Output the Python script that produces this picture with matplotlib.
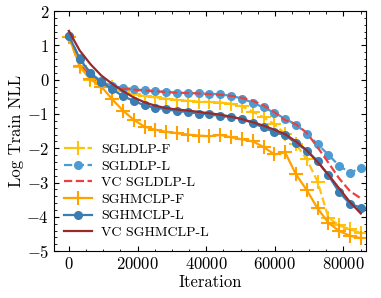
import matplotlib
matplotlib.use('Agg')
import matplotlib.pyplot as plt
import numpy as np
from matplotlib.ticker import MultipleLocator

plt.rcParams['font.family'] = 'serif'
plt.rcParams['font.serif'] = ['cmr10']
plt.rcParams['mathtext.fontset'] = 'cm'
plt.rcParams['axes.formatter.use_mathtext'] = True
plt.rcParams['font.size'] = 12

# iteration grid (one logged value every ~3150 iterations)
iters = np.arange(28) * 3150

sgld_f = [1.25, 0.38, 0.00, -0.12, -0.22, -0.33, -0.42, -0.48, -0.52, -0.55, -0.59, -0.62, -0.64, -0.65,
          -0.67, -0.70, -0.78, -0.93, -1.10, -1.30, -1.58, -1.88, -2.32, -2.97, -4.02, -4.25, -4.36, -4.47]
sgld_l = [1.28, 0.62, 0.19, -0.05, -0.19, -0.23, -0.28, -0.31, -0.33, -0.36, -0.38, -0.38, -0.40, -0.41,
          -0.43, -0.47, -0.55, -0.67, -0.81, -0.96, -1.14, -1.31, -1.57, -1.88, -2.19, -2.51, -2.71, -2.58]
vc_sgld_l = [1.33, 0.45, 0.10, -0.10, -0.20, -0.26, -0.29, -0.32, -0.34, -0.36, -0.38, -0.39, -0.40, -0.42,
             -0.44, -0.47, -0.53, -0.62, -0.75, -0.95, -1.18, -1.30, -1.55, -1.97, -2.42, -2.88, -3.25, -3.46]
sghmc_f = [1.25, 0.40, 0.01, -0.20, -0.57, -0.90, -1.17, -1.37, -1.46, -1.52, -1.56, -1.60, -1.63, -1.65,
           -1.61, -1.68, -1.74, -1.80, -1.96, -2.18, -2.12, -2.76, -3.22, -3.75, -4.17, -4.41, -4.55, -4.62]
sghmc_l = [1.28, 0.61, 0.18, -0.07, -0.28, -0.48, -0.62, -0.75, -0.82, -0.86, -0.92, -0.94, -0.99, -1.01,
           -1.06, -1.09, -1.14, -1.27, -1.39, -1.53, -1.62, -1.84, -2.07, -2.37, -2.79, -3.28, -3.62, -3.73]
vc_sghmc_l = [1.42, 0.85, 0.45, 0.12, -0.12, -0.33, -0.52, -0.66, -0.76, -0.83, -0.87, -0.90, -0.94, -0.98,
              -1.02, -1.08, -1.15, -1.24, -1.34, -1.46, -1.59, -1.80, -2.06, -2.40, -2.77, -3.17, -3.57, -3.90]

fig = plt.figure(figsize=(3.81, 2.98), dpi=100)
ax = fig.add_axes([0.142, 0.157, 0.819, 0.806])

ax.plot(iters, sgld_f, '--', color='#FFC20E', marker='+', ms=10, mew=1.5, lw=1.6, label='SGLDLP-F')
ax.plot(iters, sgld_l, '--', color='#4C9BD2', marker='o', ms=5.5, lw=1.6, label='SGLDLP-L')
ax.plot(iters, vc_sgld_l, '--', color='#E8413F', lw=1.6, label='VC SGLDLP-L')
ax.plot(iters, sghmc_f, '-', color='#FFA200', marker='+', ms=10, mew=1.5, lw=1.6, label='SGHMCLP-F')
ax.plot(iters, sghmc_l, '-', color='#3A7DB3', marker='o', ms=5.5, lw=1.6, label='SGHMCLP-L')
ax.plot(iters, vc_sghmc_l, '-', color='#992A2A', lw=1.6, label='VC SGHMCLP-L')

ax.set_xlim(-4300, 86600)
ax.set_ylim(-5, 2)
ax.xaxis.set_major_locator(MultipleLocator(20000))
ax.xaxis.set_minor_locator(MultipleLocator(5000))
ax.yaxis.set_major_locator(MultipleLocator(1))
ax.yaxis.set_minor_locator(MultipleLocator(0.2))
ax.tick_params(which='both', direction='in', top=True, right=True)
ax.tick_params(which='major', length=3.5)
ax.tick_params(which='minor', length=1.8)

ax.set_xlabel('Iteration', labelpad=2)
ax.set_ylabel('Log Train NLL', labelpad=2)

ax.legend(loc='lower left', frameon=False, fontsize=10, handlelength=2.0, handletextpad=0.7,
          labelspacing=0.28, borderaxespad=0.3, bbox_to_anchor=(0.0, 0.01))

fig.savefig('out.png', dpi=100)
